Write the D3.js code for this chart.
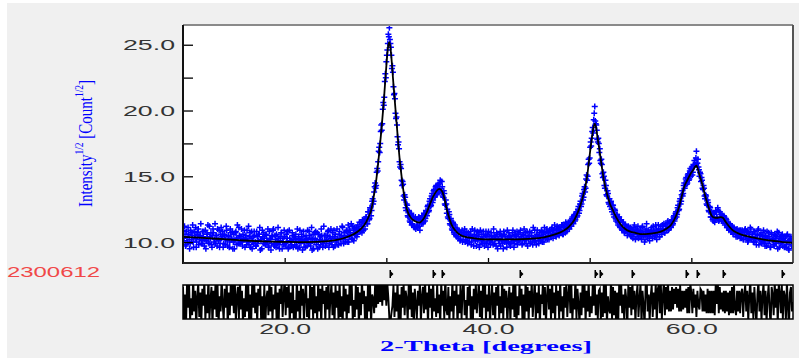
<!DOCTYPE html>
<html>
<head>
<meta charset="utf-8">
<script src="https://cdn.jsdelivr.net/npm/d3@7"></script>
<style>
  body { margin: 0; background: #f0f0f0; }
  svg { display: block; }
</style>
</head>
<body>
<div id="chart"></div>
<script>
// scan grid for the observed / difference series
const startAngle = 10;
const stepAngle = 0.1;

// observed sqrt intensity at x.0 .. x.9, one row per degree
const observed = [
  10.9,10.1,10.6,9.8,10.4,11.1,10.2,9.9,10.7,10.5,   // 10
  10.0,10.8,10.3,9.6,10.6,11.0,10.2,10.5,9.9,10.8,   // 11
  10.4,9.7,10.9,10.1,10.6,10.0,11.2,10.3,9.8,10.5,   // 12
  10.7,10.2,9.9,10.5,11.0,10.1,9.6,10.6,10.3,10.8,   // 13
  9.9,10.5,10.2,10.9,9.7,10.4,10.0,10.7,10.3,9.5,    // 14
  10.6,10.1,10.8,9.8,10.3,11.1,9.9,10.4,10.0,10.6,   // 15
  10.2,9.6,10.5,10.9,10.0,9.8,10.7,10.3,9.5,10.4,    // 16
  10.8,10.0,9.7,10.4,10.1,10.6,9.4,10.2,10.9,9.9,    // 17
  10.3,9.8,10.5,10.0,9.6,10.8,10.2,9.9,10.4,11.0,    // 18
  9.7,10.2,10.6,9.9,10.3,9.5,10.1,10.7,10.0,9.8,     // 19
  10.4,9.9,10.0,10.8,9.6,10.3,10.1,9.7,10.5,10.2,    // 20
  9.8,10.6,10.0,9.5,10.3,10.9,9.9,10.2,10.4,9.6,     // 21
  10.1,10.5,9.7,10.2,10.8,9.9,10.3,9.4,10.6,10.0,    // 22
  10.3,9.8,10.7,10.0,9.6,10.4,11.0,10.1,9.9,10.5,    // 23
  9.7,10.2,10.5,10.9,9.9,10.3,10.0,10.7,9.6,10.4,    // 24
  10.6,10.0,10.3,9.8,10.8,10.2,10.5,11.1,9.9,10.4,   // 25
  10.2,10.9,10.5,10.0,11.0,10.6,10.3,11.2,10.1,10.7, // 26
  10.9,10.4,11.3,10.8,11.0,11.5,10.7,11.2,11.6,11.0, // 27
  11.9,11.4,12.3,11.7,12.6,12.0,13.1,12.9,13.8,14.5, // 28
  14.3,15.6,16.1,17.2,17.5,18.9,19.0,20.6,21.0,22.8, // 29
  23.7,24.6,25.8,26.3,25.1,24.2,23.4,21.8,21.3,19.8, // 30
  19.5,18.0,17.6,16.1,15.9,14.7,14.6,13.5,13.6,12.6, // 31
  12.9,12.0,12.4,11.6,12.1,11.3,11.9,11.2,11.8,11.0, // 32
  11.7,11.1,11.9,10.9,11.6,12.0,11.4,12.2,11.6,12.4, // 33
  12.0,12.8,12.4,13.3,12.8,13.7,13.2,14.0,13.5,14.3, // 34
  13.7,14.4,14.1,14.7,13.8,14.2,13.4,13.7,12.8,12.9, // 35
  12.5,11.8,12.1,11.3,11.6,10.9,11.4,10.6,11.1,10.4, // 36
  10.9,10.3,10.8,10.2,10.7,10.0,10.6,11.0,10.2,10.5, // 37
  9.9,10.6,10.3,10.8,10.0,10.4,9.7,10.9,10.2,10.5,   // 38
  10.1,10.7,9.8,10.3,10.6,9.9,10.4,10.0,10.8,10.2,   // 39
  9.6,10.4,10.1,10.7,10.0,9.8,10.5,10.2,9.7,10.6,    // 40
  10.3,9.9,10.8,10.1,10.4,9.5,10.6,10.2,10.0,10.9,   // 41
  10.0,10.5,9.7,10.3,10.7,10.1,9.9,10.6,10.4,9.8,    // 42
  10.6,10.2,10.9,10.4,9.9,10.5,10.1,10.7,10.3,9.7,   // 43
  10.2,10.8,10.0,10.5,9.8,10.3,10.9,10.1,10.6,10.4,  // 44
  9.9,10.5,10.2,10.8,10.4,10.0,10.7,10.3,11.0,10.5,  // 45
  10.2,10.8,10.5,11.1,10.3,10.6,10.9,10.4,11.2,10.7, // 46
  10.5,11.0,10.8,11.3,10.6,11.1,10.7,11.4,11.0,11.5, // 47
  11.0,11.6,11.2,11.9,11.4,12.1,11.7,12.3,12.0,12.7, // 48
  12.4,13.1,12.9,13.7,13.4,14.2,14.1,15.1,15.0,16.3, // 49
  16.4,17.6,17.9,18.7,19.3,20.3,19.0,18.5,17.6,17.5, // 50
  17.1,16.0,15.9,14.9,15.0,14.1,14.3,13.5,13.7,12.9, // 51
  12.7,13.1,12.3,12.8,11.9,12.4,11.6,12.1,11.3,11.9, // 52
  11.1,11.7,10.9,11.5,10.7,11.3,11.0,10.5,11.2,10.8, // 53
  11.1,10.4,10.9,10.6,11.3,10.2,10.8,11.0,10.3,10.7, // 54
  10.9,10.2,11.2,10.5,10.0,10.8,11.4,10.4,10.7,10.1, // 55
  10.6,11.1,10.3,10.9,10.5,11.3,10.2,10.8,11.0,10.4, // 56
  11.2,10.6,11.0,11.4,10.7,11.3,10.9,11.6,11.0,11.5, // 57
  11.1,11.7,11.4,12.0,11.8,12.3,12.1,12.8,12.5,13.3, // 58
  13.1,13.9,13.7,14.5,14.3,14.9,14.5,15.2,14.8,15.6, // 59
  15.5,15.1,15.9,16.2,15.9,16.9,16.0,15.7,15.0,15.2, // 60
  14.9,14.1,14.3,13.5,13.6,12.9,13.2,12.4,12.7,11.9, // 61
  12.3,11.7,12.2,11.5,12.4,11.9,12.6,11.6,12.3,11.8, // 62
  12.1,11.6,12.0,11.3,11.8,11.1,11.5,10.9,11.4,10.8, // 63
  11.2,10.6,11.1,10.7,10.4,11.0,10.5,10.9,10.3,10.8, // 64
  10.9,10.2,10.7,11.0,10.4,10.8,10.1,10.6,11.1,10.3, // 65
  10.6,10.0,10.8,10.3,9.8,10.5,11.0,10.2,10.6,9.9,   // 66
  10.4,10.9,10.0,10.5,9.7,10.3,10.7,10.1,9.6,10.6,   // 67
  10.2,9.8,10.6,10.0,10.4,9.5,10.7,10.3,9.9,10.5,    // 68
  9.7,10.3,10.1,9.6,10.5,10.0,9.4,10.2,10.4,9.8,     // 69
  10.0                                               // 70
];

// observed sqrt intensity at the half steps x.05 .. x.95
const observedMid = [
  10.3,11.2,9.7,10.8,10.0,10.6,9.5,10.9,10.2,11.3,   // 10
  9.6,10.5,11.1,10.0,10.7,9.8,10.4,11.4,10.1,9.9,    // 11
  10.8,10.2,9.5,10.6,11.3,9.9,10.4,10.7,9.6,11.0,    // 12
  10.0,11.4,10.5,9.7,10.2,10.9,9.9,11.1,10.4,9.6,    // 13
  10.6,9.8,11.2,10.1,10.5,9.6,11.0,10.2,10.8,10.0,   // 14
  9.5,10.7,10.3,11.3,9.9,10.5,10.0,11.0,9.7,10.3,    // 15
  10.9,10.3,9.8,10.1,11.2,10.4,9.6,10.8,10.0,9.9,    // 16
  10.5,9.7,10.8,9.9,10.6,11.1,10.2,9.5,10.4,10.7,    // 17
  9.9,10.6,10.1,11.0,9.7,10.3,9.4,10.5,10.9,9.8,     // 18
  10.5,9.6,10.0,11.1,9.8,10.4,10.7,9.5,10.3,10.9,    // 19
  9.7,10.6,10.3,9.5,10.9,10.0,9.8,10.7,9.6,10.4,     // 20
  10.2,9.7,11.0,10.4,9.6,10.1,10.6,9.4,10.8,10.0,    // 21
  9.6,10.3,10.9,9.9,10.5,9.7,11.1,10.2,9.5,10.7,     // 22
  10.8,10.0,9.5,10.6,10.2,9.8,10.5,9.6,11.2,10.1,    // 23
  10.5,9.9,10.8,9.6,10.4,11.0,9.8,10.3,10.9,9.7,     // 24
  10.1,11.0,9.8,10.6,10.3,9.9,11.2,10.2,10.7,10.0,   // 25
  10.8,10.0,11.3,10.4,10.7,11.4,10.2,10.9,11.1,10.5, // 26
  11.1,10.6,11.0,11.5,10.8,11.2,11.7,10.9,11.4,11.8, // 27
  11.9,11.4,12.3,11.8,12.6,12.4,13.3,13.1,14.2,14.1, // 28
  15.3,15.4,16.9,16.8,18.4,18.5,20.1,20.4,22.2,22.5, // 29
  24.2,25.1,25.6,25.4,24.8,23.2,22.9,21.2,20.9,19.4, // 30
  18.9,17.4,17.1,15.7,15.6,14.3,14.4,13.2,13.4,12.4, // 31
  12.8,11.9,12.3,11.5,12.2,11.4,11.9,11.1,11.9,11.2, // 32
  11.3,11.8,11.2,11.7,11.4,11.9,11.5,12.1,11.8,12.3, // 33
  12.7,12.3,13.1,12.7,13.5,13.0,13.9,13.4,14.2,13.6, // 34
  14.3,13.8,14.5,13.9,14.6,13.5,13.9,12.9,13.2,12.2, // 35
  11.9,12.3,11.4,11.8,11.0,11.5,10.7,11.3,10.5,11.0, // 36
  10.4,10.9,10.1,10.6,10.9,10.2,10.7,10.0,10.8,10.1, // 37
  10.7,10.0,10.5,9.8,11.0,10.3,10.6,10.1,9.7,10.8,   // 38
  10.4,9.6,10.9,10.1,10.2,10.8,9.7,10.5,9.9,10.6,    // 39
  10.8,10.0,9.8,10.5,10.3,11.0,9.9,10.4,10.7,9.5,    // 40
  10.1,10.6,9.7,10.5,9.9,10.8,10.0,10.4,9.6,10.3,    // 41
  10.7,9.9,10.4,10.0,10.9,9.6,10.5,10.2,10.8,10.1,   // 42
  10.0,10.7,10.3,9.8,10.6,11.0,10.2,9.9,10.8,10.4,   // 43
  10.5,9.9,10.7,10.2,11.1,10.0,10.4,9.8,10.9,10.1,   // 44
  10.7,10.1,10.9,10.0,10.6,11.1,10.3,10.8,10.2,10.7, // 45
  10.9,10.4,11.0,10.6,10.9,11.3,10.5,11.0,10.6,11.1, // 46
  10.9,10.7,11.3,10.6,11.2,10.9,11.5,10.8,11.3,11.1, // 47
  11.5,11.2,11.8,11.5,12.0,11.6,12.2,11.9,12.5,12.2, // 48
  12.9,12.7,13.5,13.2,14.0,13.8,14.8,14.7,15.9,16.0, // 49
  17.2,17.3,18.4,18.3,19.8,19.2,18.9,17.8,17.9,16.8, // 50
  16.2,16.3,15.2,15.3,14.3,14.7,13.6,13.9,13.0,13.3, // 51
  13.0,12.5,12.8,12.1,12.5,11.8,12.1,11.5,11.9,11.2, // 52
  11.6,11.0,11.5,10.9,11.3,10.8,11.2,10.7,11.1,10.6, // 53
  10.5,11.0,10.3,11.1,10.6,10.9,10.4,11.2,10.7,10.5, // 54
  10.7,11.1,10.4,10.8,10.2,11.0,10.5,10.9,10.3,10.8, // 55
  10.9,10.4,11.2,10.7,10.5,11.0,10.6,11.3,10.4,10.9, // 56
  10.8,11.3,10.9,10.7,11.2,11.0,11.5,10.9,11.4,11.2, // 57
  11.6,11.3,11.9,11.6,12.2,11.9,12.6,12.4,13.1,12.9, // 58
  13.6,13.5,14.3,14.1,14.8,14.4,15.1,14.7,15.4,15.0, // 59
  15.7,15.3,15.8,15.9,16.4,16.0,16.3,15.5,15.3,14.6, // 60
  14.7,14.0,14.1,13.3,13.5,12.8,13.0,12.3,12.6,11.9, // 61
  12.2,11.6,12.1,11.7,12.3,11.8,12.4,11.7,12.1,11.6, // 62
  12.0,11.6,11.9,11.4,11.7,11.1,11.4,11.0,11.3,10.8, // 63
  11.1,10.7,11.0,10.6,10.9,10.4,10.8,10.5,10.9,10.3, // 64
  10.7,10.2,10.9,10.4,10.8,10.0,10.7,10.3,11.0,10.2, // 65
  10.4,10.8,10.0,10.6,10.2,10.9,9.8,10.5,10.1,10.7,  // 66
  10.0,10.5,9.7,10.3,10.8,9.9,10.4,9.6,10.7,10.1,    // 67
  10.3,9.7,10.5,9.9,10.8,10.1,9.6,10.4,10.0,10.6,    // 68
  10.2,9.6,10.4,9.8,10.6,9.5,10.1,10.3,9.7,10.0      // 69
];

// observed minus calculated, on the x.0 .. x.9 grid
const difference = [
  0.8,-0.9,0.4,-1.2,1.1,-0.3,0.9,-1.0,0.2,-0.7,
  1.3,-0.5,0.6,-1.4,0.3,1.0,-0.8,0.5,-1.1,0.7,
  -0.2,1.2,-1.0,0.4,-0.6,1.4,-0.9,0.1,0.8,-1.3,
  0.6,-0.4,1.1,-0.8,0.9,-1.2,0.3,-0.5,1.3,-0.1,
  -1.0,0.7,-0.3,1.2,-1.4,0.5,-0.7,1.0,-0.2,0.9,
  -0.6,1.1,-1.1,0.3,0.8,-0.9,1.3,-0.4,0.6,-1.2,
  0.2,-0.8,1.0,-0.5,1.4,-1.0,0.4,-1.3,0.9,-0.3,
  1.2,-0.6,0.5,-1.1,0.7,-0.2,1.0,-1.4,0.3,-0.9,
  0.9,-1.2,0.2,0.6,-0.7,1.3,-0.5,0.8,-1.0,0.4,
  -0.4,1.0,-0.9,0.5,-1.3,0.7,-0.1,1.1,-0.8,0.3,
  1.4,-0.7,0.8,-0.3,1.0,-1.2,0.5,-0.6,1.2,-1.0,
  0.1,-0.9,1.3,-0.5,0.6,-1.4,0.9,-0.2,0.7,-1.1,
  0.4,1.1,-0.8,0.2,-1.2,1.0,-0.4,0.8,-0.9,1.3,
  -0.6,0.3,-1.0,1.2,-0.5,0.7,-1.3,0.9,-0.1,0.6,
  -1.1,0.8,-0.4,1.4,-0.9,0.2,1.0,-0.7,0.5,-1.2,
  0.9,-0.3,0.6,-1.0,1.2,-0.8,0.3,-1.4,1.1,-0.5,
  0.7,-1.1,0.4,-0.6,1.3,-0.2,0.9,-1.0,0.1,-0.8,
  1.0,-0.4,0.8,-1.3,0.5,-0.7,1.2,-0.1,0.6,-1.0,
  0.3,-0.9,1.1,-0.5,0.9,-1.2,0.4,0.2,-0.6,1.0,
  -0.3,1.0,-0.1,1.2,0.0,1.1,-0.2,1.2,0.1,1.0,
  -0.2,1.0,0.2,-0.9,-1.1,-0.6,-0.2,0.9,-0.8,0.5,
  -0.5,1.1,-0.9,0.4,-1.2,0.8,-0.3,1.0,-0.7,0.6,
  0.2,-1.0,0.9,-0.4,1.2,-0.8,0.5,-1.3,0.7,-0.1,
  -0.9,0.6,-0.2,1.1,-1.1,0.3,0.8,-0.6,1.3,-0.4,
  0.5,-1.2,0.9,-0.3,0.7,-1.0,1.2,-0.5,0.2,-0.8,
  1.0,-0.6,0.4,-1.3,1.1,-0.2,0.6,-0.9,1.4,-0.4,
  -0.7,0.8,-1.1,0.3,-0.5,1.2,-1.0,0.6,-0.2,0.9,
  -1.3,0.4,-0.6,1.0,-0.9,0.5,1.3,-0.7,0.1,-1.1,
  0.8,-0.2,1.2,-0.9,0.3,-1.4,0.7,-0.4,1.0,-0.6,
  0.2,1.1,-0.8,0.6,-1.2,0.9,-0.3,1.3,-1.0,0.4,
  -0.5,0.9,-1.3,0.2,1.0,-0.7,0.5,-1.1,0.8,-0.2,
  1.2,-0.9,0.3,-0.6,1.4,-1.0,0.7,-0.3,0.6,-1.2,
  0.1,0.8,-1.1,0.5,-0.4,1.2,-0.8,0.9,-1.3,0.3,
  -0.7,1.0,-0.2,0.7,-1.2,0.4,-0.9,1.3,-0.5,0.8,
  -1.0,0.6,-0.3,1.1,-0.8,0.2,1.2,-1.1,0.5,-0.6,
  0.9,-1.3,0.4,-0.1,1.0,-0.7,0.8,-1.2,0.3,1.1,
  -0.4,0.7,-1.0,1.3,-0.6,0.5,-1.1,0.9,-0.2,0.6,
  -0.9,1.2,-0.5,0.3,-1.4,0.8,-0.3,1.0,-0.8,0.4,
  1.1,-0.6,0.9,-1.0,0.2,-0.4,1.3,-0.9,0.7,-0.1,
  -1.2,0.5,-0.7,1.0,-0.3,0.9,-1.1,0.6,-0.5,1.2,
  -0.8,0.3,-0.6,0.9,-0.2,1.1,-0.7,0.4,-0.9,0.6,
  0.7,-1.0,0.5,-0.8,1.1,-0.6,0.9,-1.2,0.3,-0.4,
  -0.6,1.3,-0.9,0.8,-0.7,0.6,-1.1,0.5,-1.3,0.9,
  -0.2,1.0,-0.6,0.4,-1.0,0.7,0.2,-1.4,0.9,-0.3,
  0.8,-0.7,1.2,-0.4,0.6,-1.1,0.3,0.9,-0.8,0.2,
  1.0,-1.2,0.6,-0.2,-1.3,0.8,1.4,-0.5,0.4,-1.0,
  0.3,0.9,-0.8,0.5,-0.4,1.1,-1.2,0.7,0.9,-0.6,
  1.0,-0.9,0.3,1.1,-0.7,0.8,-0.4,1.2,-0.5,0.6,
  -0.5,0.8,-0.4,0.7,-0.1,0.8,-0.3,0.7,-0.5,0.9,
  -0.5,0.6,-0.4,0.6,-0.3,0.7,-0.6,0.8,-0.6,1.0,
  0.5,-0.6,0.7,-0.3,0.4,-0.8,0.6,-0.2,-0.4,0.7,
  0.6,-0.5,0.6,-0.5,0.4,-0.6,0.7,-0.6,0.6,-0.6,
  0.6,-0.6,0.6,-0.7,1.0,-0.1,1.2,-0.6,0.8,-0.4,
  0.5,-0.5,0.6,-0.6,0.6,-0.5,0.5,-0.7,0.6,-0.6,
  0.8,-0.6,0.9,-0.4,-0.7,0.6,-0.5,0.6,-0.6,0.5,
  0.7,-0.8,0.4,0.9,-0.5,0.6,-1.0,0.3,1.2,-0.6,
  0.5,-0.9,0.8,-0.3,-1.2,0.4,1.1,-0.5,0.6,-1.0,
  0.3,1.0,-0.7,0.6,-1.1,0.2,0.9,-0.4,-1.3,0.8,
  0.4,-0.7,1.1,-0.3,0.7,-1.2,1.0,0.5,-0.6,0.9,
  -0.9,0.6,0.3,-1.0,1.1,-0.2,-1.4,0.5,0.8,-0.5,
  0.0
];

// calculated profile (smooth fit)
const calcAngle = [10,12,14,16,18,20,22,24,25,26,26.5,27,27.5,28,28.3,28.5,28.7,28.9,29.1,29.3,
  29.5,29.7,29.9,30.1,30.2,30.3,30.4,30.5,30.7,30.9,31.1,31.3,31.5,31.7,31.9,32.1,32.4,32.8,33.2,33.6,
  34.0,34.3,34.6,34.9,35.2,35.5,35.7,35.9,36.1,36.4,36.7,37,37.5,38,39,40,42,44,45,46,
  47,47.5,48,48.5,48.8,49.0,49.3,49.6,49.8,50.0,50.2,50.4,50.5,50.6,50.8,51.0,51.2,51.4,51.6,51.8,
  52.0,52.3,52.6,53.0,53.5,54,54.5,55,56,57,57.5,58,58.5,58.8,59.0,59.3,59.6,59.9,60.2,60.4,
  60.5,60.6,60.8,61.0,61.2,61.4,61.6,61.8,62.0,62.3,62.6,62.9,63.1,63.4,63.7,64.0,64.5,65,66,67,
  68,69,70];
const calcValue = [10.40,10.32,10.22,10.12,10.05,10.02,10.0,10.05,10.15,10.35,10.5,10.7,11.0,11.5,12.0,12.4,13.2,14.1,15.3,16.8,
  18.4,20.2,22.3,24.3,25.0,25.2,24.8,24.0,22.0,20.1,18.2,16.4,15.0,13.8,12.9,12.3,11.85,11.6,11.48,11.7,
  12.3,12.9,13.45,13.85,14.05,13.85,13.35,12.65,12.05,11.35,10.95,10.7,10.45,10.35,10.25,10.2,10.2,10.25,10.3,10.45,
  10.7,10.9,11.2,11.7,12.2,12.6,13.35,14.3,15.3,16.6,17.8,18.8,19.0,18.8,17.8,16.8,15.7,14.7,14.0,13.4,
  12.9,12.4,11.9,11.4,11.0,10.8,10.7,10.6,10.65,10.8,11.0,11.3,12.0,12.7,13.3,14.2,14.7,15.15,15.5,15.75,
  15.8,15.65,15.1,14.6,14.0,13.4,12.9,12.4,12.0,11.85,11.85,11.9,11.85,11.5,11.2,10.95,10.7,10.55,10.35,10.2,
  10.1,10.0,9.95];

// reflection positions (tick row)
const reflections = [30.34, 34.57, 35.45, 43.12, 50.49, 50.98, 54.13, 59.44, 60.52, 63.07, 68.87];

const yTicks = [10, 12.5, 15, 17.5, 20, 22.5, 25];
const xTicks = [20, 30, 40, 50, 60];
const xLabels = [20, 40, 60];
const sampleName = "2300612";

const W = 799, H = 358;
const plot = {left: 183, right: 793, top: 25, bottom: 263};
const diffBox = {top: 285, bottom: 319};

const svg = d3.select("#chart").append("svg")
  .attr("width", W)
  .attr("height", H);

// white strip round the edge, grey panel
svg.append("rect").attr("width", W).attr("height", H).attr("fill", "#ffffff");
svg.append("rect").attr("x", 7).attr("y", 3).attr("width", W - 7).attr("height", H - 3).attr("fill", "#f0f0f0");

const x = d3.scaleLinear().domain([10, 70]).range([plot.left, plot.right]);
const y = d3.scaleLinear().domain([8.41, 26.5]).range([plot.bottom, plot.top]);
const yd = d3.scaleLinear().domain([-0.85, 0.85]).range([diffBox.bottom - 1, diffBox.top + 1]);

svg.append("rect")
  .attr("x", plot.left).attr("y", plot.top)
  .attr("width", plot.right - plot.left).attr("height", plot.bottom - plot.top)
  .attr("fill", "#ffffff");

svg.append("clipPath").attr("id", "clipMain")
  .append("rect")
  .attr("x", plot.left).attr("y", plot.top)
  .attr("width", plot.right - plot.left).attr("height", plot.bottom - plot.top);

const obsData = observed.map((v, i) => ({a: startAngle + i * stepAngle, v: v}))
  .concat(observedMid.map((v, i) => ({a: startAngle + (i + 0.5) * stepAngle, v: v})));
const diffData = difference.map((v, i) => ({a: startAngle + i * stepAngle, v: v}));
const calcData = calcAngle.map((a, i) => ({a: a, v: calcValue[i]}));

// observed points as blue crosses
svg.append("g")
  .attr("clip-path", "url(#clipMain)")
  .selectAll("path")
  .data(obsData)
  .enter()
  .append("path")
  .attr("transform", d => `translate(${x(d.a)},${y(d.v)})`)
  .attr("d", "M-3,0H3M0,-3V3")
  .attr("stroke", "#0000ff")
  .attr("stroke-width", 1.5);

// calculated line
svg.append("path")
  .datum(calcData)
  .attr("clip-path", "url(#clipMain)")
  .attr("fill", "none")
  .attr("stroke", "#000000")
  .attr("stroke-width", 1.8)
  .attr("d", d3.line().x(d => x(d.a)).y(d => y(d.v)).curve(d3.curveMonotoneX));

// axes of the main plot
const yAxis = svg.append("g")
  .attr("transform", `translate(${plot.left},0)`)
  .call(d3.axisLeft(y).tickValues(yTicks).tickSizeInner(-10).tickSizeOuter(0).tickPadding(8)
    .tickFormat(d => Number.isInteger(d / 5) ? d.toFixed(1) : ""));
yAxis.select(".domain").remove();
yAxis.selectAll("line").attr("stroke", "#000").attr("stroke-width", 1.3);
yAxis.selectAll("text")
  .attr("fill", "#333")
  .style("font-family", "'Liberation Sans', Arial, sans-serif")
  .style("font-size", "14px")
  .attr("dy", "0.36em")
  .filter(function() { return this.textContent !== ""; })
  .attr("textLength", 52)
  .attr("lengthAdjust", "spacingAndGlyphs");

const xAxis = svg.append("g")
  .attr("transform", `translate(0,${plot.bottom})`)
  .call(d3.axisBottom(x).tickValues(xTicks).tickSizeInner(-5).tickSizeOuter(0).tickFormat(""));
xAxis.select(".domain").remove();
xAxis.selectAll("line").attr("stroke", "#000").attr("stroke-width", 1.3);

// plot frame
svg.append("line").attr("x1", plot.left).attr("x2", plot.right).attr("y1", plot.top).attr("y2", plot.top)
  .attr("stroke", "#8a8a8a").attr("stroke-width", 2);
svg.append("line").attr("x1", plot.right).attr("x2", plot.right).attr("y1", plot.top).attr("y2", plot.bottom)
  .attr("stroke", "#555").attr("stroke-width", 2);
svg.append("line").attr("x1", plot.left).attr("x2", plot.left).attr("y1", plot.top).attr("y2", plot.bottom + 1)
  .attr("stroke", "#111").attr("stroke-width", 2);
svg.append("line").attr("x1", plot.left).attr("x2", plot.right).attr("y1", plot.bottom).attr("y2", plot.bottom)
  .attr("stroke", "#222").attr("stroke-width", 2);

// reflection markers
svg.append("g")
  .selectAll("path")
  .data(reflections)
  .enter()
  .append("path")
  .attr("transform", d => `translate(${Math.round(x(d))},270)`)
  .attr("d", "M-0.5,0V8H1V0Z M1,1.5L3.5,4L1,6.5Z")
  .attr("fill", "#000");

// difference panel
svg.append("rect")
  .attr("x", plot.left).attr("y", diffBox.top)
  .attr("width", plot.right - plot.left).attr("height", diffBox.bottom - diffBox.top)
  .attr("fill", "#ffffff");
svg.append("clipPath").attr("id", "clipDiff")
  .append("rect")
  .attr("x", plot.left).attr("y", diffBox.top)
  .attr("width", plot.right - plot.left).attr("height", diffBox.bottom - diffBox.top);
svg.append("path")
  .datum(diffData)
  .attr("clip-path", "url(#clipDiff)")
  .attr("fill", "none")
  .attr("stroke", "#000")
  .attr("stroke-width", 1.9)
  .attr("d", d3.line().x(d => x(d.a)).y(d => yd(d.v)));
svg.append("rect")
  .attr("x", plot.left).attr("y", diffBox.top)
  .attr("width", plot.right - plot.left).attr("height", diffBox.bottom - diffBox.top)
  .attr("fill", "none").attr("stroke", "#000").attr("stroke-width", 1.5);

const xLab = svg.append("g")
  .attr("transform", `translate(0,${diffBox.bottom})`)
  .call(d3.axisBottom(x).tickValues(xLabels).tickSize(0).tickPadding(5).tickFormat(d => d.toFixed(1)));
xLab.select(".domain").remove();
xLab.selectAll("text")
  .attr("fill", "#333")
  .style("font-family", "'Liberation Sans', Arial, sans-serif")
  .style("font-size", "14px")
  .attr("textLength", 52)
  .attr("lengthAdjust", "spacingAndGlyphs");

// titles
const yTitle = svg.append("text")
  .attr("transform", "translate(92,143.5) rotate(-90)")
  .attr("text-anchor", "middle")
  .attr("fill", "#0000ff")
  .style("font-family", "'Liberation Serif', 'Times New Roman', serif")
  .style("font-size", "19px")
  .attr("textLength", 127)
  .attr("lengthAdjust", "spacingAndGlyphs");
yTitle.append("tspan").text("Intensity");
yTitle.append("tspan").attr("dy", -9).style("font-size", "12px").text("1/2");
yTitle.append("tspan").attr("dy", 9).text(" [Count");
yTitle.append("tspan").attr("dy", -9).style("font-size", "12px").text("1/2");
yTitle.append("tspan").attr("dy", 9).text("]");

svg.append("text")
  .attr("x", 486).attr("y", 351)
  .attr("text-anchor", "middle")
  .attr("fill", "#0000ff")
  .style("font-family", "'Liberation Serif', 'Times New Roman', serif")
  .style("font-size", "14px")
  .style("font-weight", "bold")
  .attr("textLength", 212)
  .attr("lengthAdjust", "spacingAndGlyphs")
  .text("2-Theta [degrees]");

svg.append("text")
  .attr("x", 7).attr("y", 277)
  .attr("fill", "#f04848")
  .style("font-family", "'Liberation Sans', Arial, sans-serif")
  .style("font-size", "14px")
  .attr("textLength", 93)
  .attr("lengthAdjust", "spacingAndGlyphs")
  .text(sampleName);
</script>
</body>
</html>
